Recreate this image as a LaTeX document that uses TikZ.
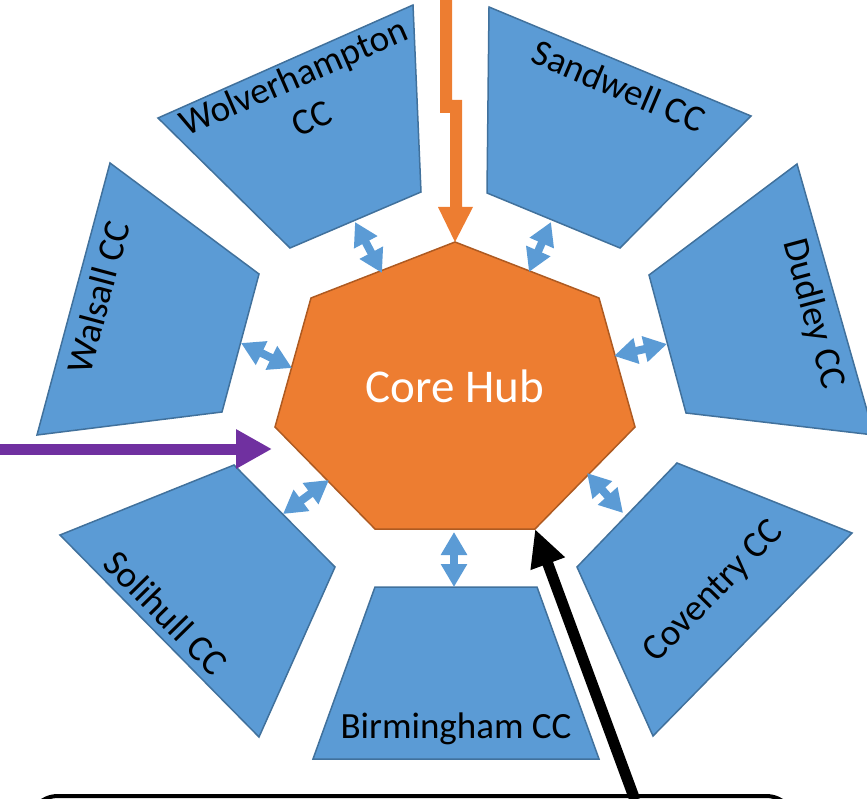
\documentclass[tikz,border=0pt]{standalone}
\usepackage{fontspec}
\setmainfont{Carlito}
\usetikzlibrary{arrows.meta}
\definecolor{hubOrange}{HTML}{ED7D31}
\definecolor{hubEdge}{HTML}{AE5A21}
\definecolor{ccBlue}{HTML}{5B9BD5}
\definecolor{ccEdge}{HTML}{41719C}
\definecolor{inPurple}{HTML}{7030A0}
\begin{document}
\begin{tikzpicture}[x=1pt,y=-1pt,
  ccbox/.style={fill=ccBlue, draw=ccEdge, line width=1.5pt, line join=miter},
  hubshape/.style={fill=hubOrange, draw=hubEdge, line width=1.5pt, line join=miter},
  lbl/.style={font=\fontsize{37}{45}\selectfont, inner sep=0pt, align=center},
  link/.style={draw=ccBlue, line width=8pt, {Triangle[length=23pt,width=25pt]}-{Triangle[length=23pt,width=25pt]}},
  feed/.style={line width=11pt}
]
\useasboundingbox (0,0) rectangle (867,799);

% hub vertices
\coordinate (h1) at (455,242);
\coordinate (h2) at (599,298);
\coordinate (h3) at (635,427);
\coordinate (h4) at (535,529);
\coordinate (h5) at (375,529);
\coordinate (h6) at (275,427);
\coordinate (h7) at (311,298);

% outer boxes
\draw[ccbox] (158,118) -- (413,5) -- (421,192) -- (290,248) -- cycle;
\draw[ccbox] (489,7) -- (751,116) -- (620,248) -- (487,193) -- cycle;
\draw[ccbox] (110,163) -- (259,274) -- (222,412) -- (37,435) -- cycle;
\draw[ccbox] (797,164) -- (874,435) -- (686,413) -- (649,275) -- cycle;
\draw[ccbox] (234,465) -- (335,567) -- (259,737) -- (60,535) -- cycle;
\draw[ccbox] (677,463) -- (852,533) -- (653,736) -- (577,567) -- cycle;
\draw[ccbox] (375,587) -- (537,587) -- (599,759) -- (313,759) -- cycle;

% hub
\draw[hubshape] (h1) -- (h2) -- (h3) -- (h4) -- (h5) -- (h6) -- (h7) -- cycle;
\node[font=\fontsize{47}{50}\selectfont, text=white, inner sep=0pt] (hub) at (455,386) {Core Hub};

% labels
\node[lbl, rotate=23.6] (wolv) at (302,97) {Wolverhampton\\CC};
\node[lbl, rotate=-23] (sand) at (619,86) {Sandwell CC};
\node[lbl, rotate=75] (wals) at (98,297) {Walsall CC};
\node[lbl, rotate=-75] (dudl) at (813,314) {Dudley CC};
\node[lbl, rotate=-45.5] (soli) at (166,613) {Solihull CC};
\node[lbl, rotate=45.5] (cove) at (714,592) {Coventry CC};
\node[lbl, anchor=base] (birm) at (456,738) {Birmingham CC};

% links
\coordinate (wA) at (355,222); \coordinate (wB) at (382,273);
\coordinate (sA) at (551,222); \coordinate (sB) at (529,272);
\coordinate (lA) at (241,343); \coordinate (lB) at (292,368);
\coordinate (dA) at (667,344); \coordinate (dB) at (614,356);
\coordinate (oA) at (283,514); \coordinate (oB) at (329,480);
\coordinate (cA) at (587,473); \coordinate (cB) at (623,513);
\coordinate (bA) at (454,532); \coordinate (bB) at (454,587);
\draw[link] (wA) -- (wB);
\draw[link] (sA) -- (sB);
\draw[link] (lA) -- (lB);
\draw[link] (dA) -- (dB);
\draw[link] (oA) -- (oB);
\draw[link] (cA) -- (cB);
\draw[link] (bA) -- (bB);

% orange feed from top (stepped arrow)
\fill[hubOrange] (440,-5) -- (440,113) -- (450,113) -- (450,207) -- (438,207)
  -- (h1) -- (473,207) -- (462,207) -- (462,100) -- (452,100) -- (452,-5) -- cycle;

% purple feed from left
\coordinate (pTail) at (-5,449);
\coordinate (pTip) at (272,449);
\draw[feed, draw=inPurple, -{Triangle[length=36pt,width=37pt]}] (pTail) -- (pTip);

% black feed from bottom box
\coordinate (bTail) at (635,800);
\draw[feed, draw=black, -{Triangle[length=37pt,width=34pt]}] (bTail) -- (h4);

% bottom box (cut by page edge)
\draw[line width=4pt, rounded corners=30pt] (28,796) rectangle (796,880);
\end{tikzpicture}
\end{document}
